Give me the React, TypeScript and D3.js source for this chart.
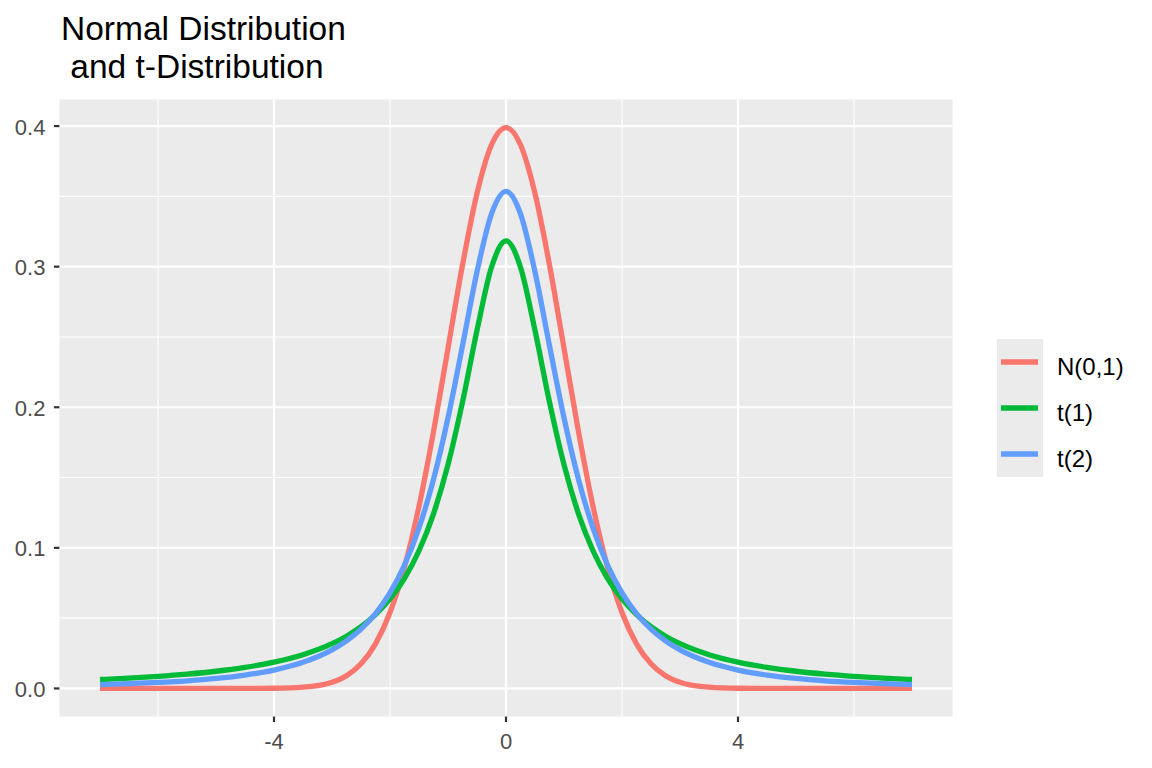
import React from "react";
import * as d3 from "d3";

const xValues = [-7, -6.5, -6, -5.5, -5, -4.5, -4, -3.5, -3, -2.75, -2.5, -2.25, -2, -1.75, -1.5, -1.25, -1, -0.75, -0.5, -0.25, 0, 0.25, 0.5, 0.75, 1, 1.25, 1.5, 1.75, 2, 2.25, 2.5, 2.75, 3, 3.5, 4, 4.5, 5, 5.5, 6, 6.5, 7];

const normalHalf = [0.39894, 0.38667, 0.35207, 0.30114, 0.24197, 0.18265, 0.12952, 0.08628, 0.05399, 0.03174, 0.01753, 0.00909, 0.00443, 0.000873, 0.000134, 0.000016, 0.0000015, 0, 0, 0, 0];
const t1Half = [0.31831, 0.29959, 0.25465, 0.20372, 0.15915, 0.12422, 0.09794, 0.07835, 0.06366, 0.05251, 0.0439, 0.03718, 0.03183, 0.02402, 0.01872, 0.01498, 0.01224, 0.01019, 0.0086, 0.00736, 0.00637];
const t2Half = [0.35355, 0.33761, 0.2963, 0.24378, 0.19245, 0.14872, 0.11413, 0.08779, 0.06804, 0.05328, 0.0422, 0.03382, 0.02741, 0.01859, 0.01309, 0.00953, 0.00713, 0.00546, 0.00427, 0.0034, 0.00275];

// mirror the half-tables (values at x >= 0) onto the symmetric x grid
const mirror = (half: number[]) => [...half.slice(1).reverse(), ...half];

const seriesNames = ["N(0,1)", "t(1)", "t(2)"];
const seriesColors = ["#F8766D", "#00BA38", "#619CFF"];
const seriesValues = [mirror(normalHalf), mirror(t1Half), mirror(t2Half)];

const xBreaks = [-4, 0, 4];
const xMinor = [-6, -2, 2, 6];
const yBreaks = [0, 0.1, 0.2, 0.3, 0.4];
const yMinor = [0.05, 0.15, 0.25, 0.35];

const titleLines = ["Normal Distribution", " and t-Distribution"];

export default function App() {
  const W = 1152;
  const H = 768;
  const px0 = 59.4, px1 = 952.6, py0 = 99.5, py1 = 716.5;
  const x = d3.scaleLinear().domain([-7.7, 7.7]).range([px0, px1]);
  const y = d3.scaleLinear().domain([-0.019947, 0.418889]).range([py1, py0]);
  const line = d3
    .line<number>()
    .x((_, i) => x(xValues[i]))
    .y((d) => y(d))
    .curve(d3.curveMonotoneX);
  const font = "Liberation Sans, Arial, sans-serif";

  return (
    <svg
      width={W}
      height={H}
      style={{ position: "absolute", left: 0, top: 0, background: "#fff" }}
      fontFamily={font}
    >
      <rect x={0} y={0} width={W} height={H} fill="#fff" />
      {titleLines.map((t, i) => (
        <text key={i} x={61} y={40 + i * 37.5} fontSize={33.5} fill="#000" style={{ whiteSpace: "pre" }}>
          {t}
        </text>
      ))}
      <rect x={px0} y={py0} width={px1 - px0} height={py1 - py0} fill="#EBEBEB" />
      {xMinor.map((v) => (
        <line key={"xm" + v} x1={x(v)} x2={x(v)} y1={py0} y2={py1} stroke="#fff" strokeWidth={1.1} />
      ))}
      {yMinor.map((v) => (
        <line key={"ym" + v} x1={px0} x2={px1} y1={y(v)} y2={y(v)} stroke="#fff" strokeWidth={1.1} />
      ))}
      {xBreaks.map((v) => (
        <line key={"xM" + v} x1={x(v)} x2={x(v)} y1={py0} y2={py1} stroke="#fff" strokeWidth={2.2} />
      ))}
      {yBreaks.map((v) => (
        <line key={"yM" + v} x1={px0} x2={px1} y1={y(v)} y2={y(v)} stroke="#fff" strokeWidth={2.2} />
      ))}
      {seriesValues.map((vals, i) => (
        <path
          key={seriesNames[i]}
          d={line(vals) || ""}
          fill="none"
          stroke={seriesColors[i]}
          strokeWidth={5.3}
          strokeLinejoin="round"
        />
      ))}
      {yBreaks.map((v) => (
        <g key={"yt" + v}>
          <line x1={px0 - 5.5} x2={px0} y1={y(v)} y2={y(v)} stroke="#333333" strokeWidth={2.2} />
          <text x={px0 - 14} y={y(v) + 8.5} textAnchor="end" fontSize={22} fill="#4D4D4D">
            {v.toFixed(1)}
          </text>
        </g>
      ))}
      {xBreaks.map((v) => (
        <g key={"xt" + v}>
          <line x1={x(v)} x2={x(v)} y1={py1} y2={py1 + 5.5} stroke="#333333" strokeWidth={2.2} />
          <text x={x(v)} y={749} textAnchor="middle" fontSize={22} fill="#4D4D4D">
            {v}
          </text>
        </g>
      ))}
      <rect x={997} y={339} width={46} height={138} fill="#EBEBEB" />
      {seriesNames.map((n, i) => {
        const cy = 362 + i * 46;
        return (
          <g key={"lg" + n}>
            <line x1={1001} x2={1038} y1={cy} y2={cy} stroke={seriesColors[i]} strokeWidth={5.3} />
            <text x={1057} y={cy + 13} fontSize={24} fill="#000">
              {n}
            </text>
          </g>
        );
      })}
    </svg>
  );
}
